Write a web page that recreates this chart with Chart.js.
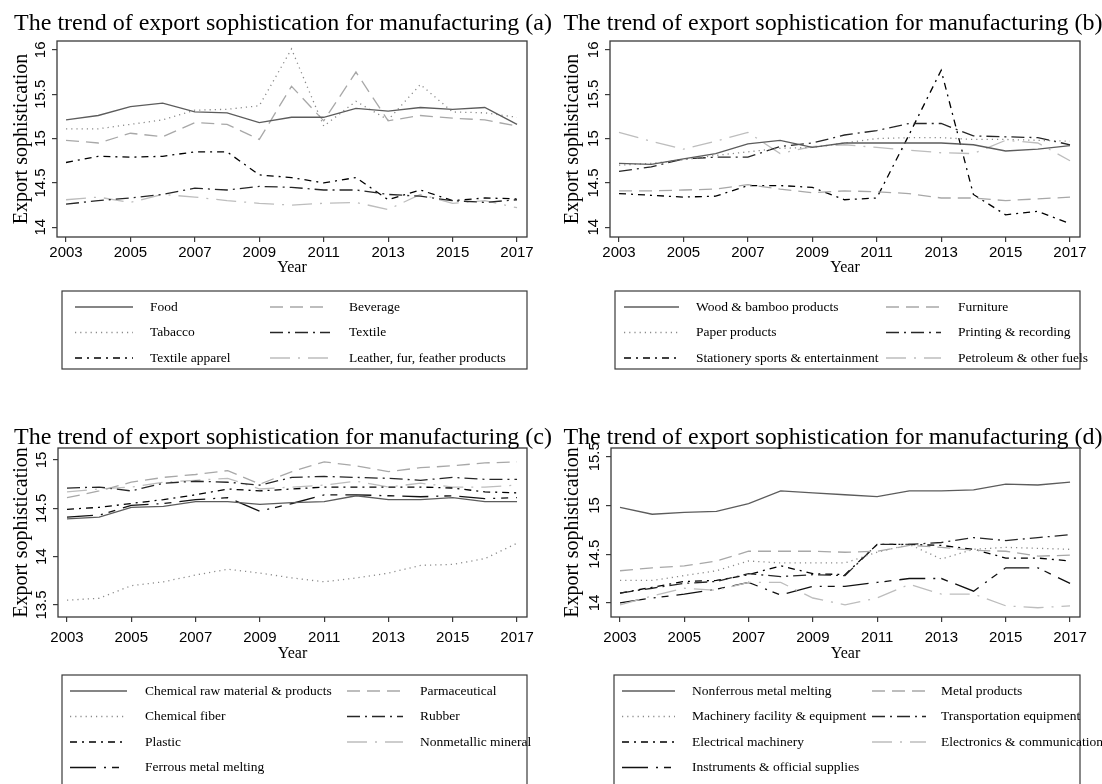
<!DOCTYPE html>
<html>
<head>
<meta charset="utf-8">
<script src="https://cdn.jsdelivr.net/npm/chart.js@4.4.0/dist/chart.umd.min.js"></script>
<style>
  html, body { margin: 0; padding: 0; background: #fff; }
  #wrap { position: relative; width: 1102px; height: 784px; overflow: hidden; }
  canvas { position: absolute; }
</style>
</head>
<body>
<div id="wrap">
  <canvas id="chartA" width="551" height="392" style="left:0;top:0"></canvas>
  <canvas id="chartB" width="551" height="392" style="left:551px;top:0"></canvas>
  <canvas id="chartC" width="551" height="392" style="left:0;top:392px"></canvas>
  <canvas id="chartD" width="551" height="392" style="left:551px;top:392px"></canvas>
</div>
<script>
// Data
const years = [2003, 2004, 2005, 2006, 2007, 2008, 2009, 2010, 2011, 2012, 2013, 2014, 2015, 2016, 2017];
const xTicks = [2003, 2005, 2007, 2009, 2011, 2013, 2015, 2017];
const yTicksTop = [14, 14.5, 15, 15.5, 16];
const yTicksC = [13.5, 14, 14.5, 15];
const yTicksD = [14, 14.5, 15, 15.5];

// (a)
const namesA = ['Food', 'Beverage', 'Tabacco', 'Textile', 'Textile apparel', 'Leather, fur, feather products'];
const food = [15.21, 15.26, 15.36, 15.40, 15.30, 15.29, 15.18, 15.24, 15.24, 15.34, 15.31, 15.35, 15.33, 15.35, 15.16];
const beverage = [14.98, 14.95, 15.06, 15.02, 15.18, 15.16, 14.99, 15.59, 15.20, 15.75, 15.20, 15.26, 15.23, 15.21, 15.14];
const tabacco = [15.11, 15.11, 15.16, 15.21, 15.32, 15.33, 15.37, 16.01, 15.14, 15.42, 15.21, 15.61, 15.30, 15.29, 15.24];
const textile = [14.26, 14.30, 14.33, 14.37, 14.44, 14.42, 14.46, 14.45, 14.42, 14.42, 14.37, 14.35, 14.30, 14.28, 14.31];
const textileApparel = [14.73, 14.80, 14.79, 14.80, 14.85, 14.85, 14.59, 14.56, 14.50, 14.56, 14.31, 14.42, 14.30, 14.33, 14.32];
const leather = [14.31, 14.34, 14.28, 14.37, 14.34, 14.30, 14.27, 14.25, 14.27, 14.28, 14.20, 14.37, 14.27, 14.30, 14.22];

// (b)
const namesB = ['Wood & bamboo products', 'Furniture', 'Paper products', 'Printing & recording', 'Stationery sports & entertainment', 'Petroleum & other fuels'];
const wood = [14.72, 14.71, 14.77, 14.83, 14.94, 14.98, 14.90, 14.95, 14.95, 14.95, 14.95, 14.93, 14.86, 14.88, 14.92];
const furniture = [14.41, 14.41, 14.42, 14.43, 14.48, 14.43, 14.39, 14.41, 14.40, 14.38, 14.33, 14.33, 14.30, 14.32, 14.34];
const paper = [14.70, 14.72, 14.76, 14.81, 14.85, 14.89, 14.90, 14.95, 15.00, 15.01, 15.01, 14.99, 14.99, 14.98, 14.97];
const printing = [14.63, 14.68, 14.77, 14.79, 14.79, 14.91, 14.95, 15.04, 15.09, 15.17, 15.17, 15.03, 15.02, 15.01, 14.93];
const stationery = [14.38, 14.36, 14.34, 14.35, 14.47, 14.47, 14.45, 14.31, 14.33, 15.04, 15.77, 14.37, 14.14, 14.18, 14.04];
const petroleum = [15.07, 14.97, 14.88, 14.97, 15.07, 14.83, 14.91, 14.93, 14.90, 14.87, 14.84, 14.83, 14.98, 14.95, 14.75];

// (c)
const namesC = ['Chemical raw material & products', 'Parmaceutical', 'Chemical fiber', 'Rubber', 'Plastic', 'Nonmetallic mineral', 'Ferrous metal melting'];
const chemRaw = [14.39, 14.41, 14.51, 14.52, 14.57, 14.57, 14.54, 14.56, 14.57, 14.63, 14.59, 14.59, 14.61, 14.57, 14.57];
const parma = [14.61, 14.68, 14.77, 14.82, 14.85, 14.89, 14.75, 14.88, 14.98, 14.94, 14.88, 14.92, 14.94, 14.97, 14.98];
const chemFiber = [13.55, 13.57, 13.70, 13.74, 13.81, 13.87, 13.83, 13.78, 13.74, 13.78, 13.83, 13.91, 13.92, 13.98, 14.14];
const rubber = [14.71, 14.72, 14.68, 14.76, 14.78, 14.77, 14.74, 14.82, 14.83, 14.82, 14.81, 14.79, 14.82, 14.80, 14.80];
const plastic = [14.49, 14.51, 14.55, 14.59, 14.64, 14.70, 14.68, 14.70, 14.72, 14.72, 14.72, 14.72, 14.71, 14.67, 14.66];
const nonmetallic = [14.67, 14.70, 14.72, 14.77, 14.79, 14.81, 14.70, 14.72, 14.74, 14.78, 14.72, 14.76, 14.72, 14.72, 14.74];
const ferrous = [14.41, 14.43, 14.53, 14.55, 14.59, 14.61, 14.47, 14.55, 14.64, 14.64, 14.63, 14.62, 14.63, 14.60, 14.61];

// (d)
const namesD = ['Nonferrous metal melting', 'Metal products', 'Machinery facility & equipment', 'Transportation equipment', 'Electrical machinery', 'Electronics & communication', 'Instruments & official supplies'];
const nonferrous = [14.98, 14.91, 14.93, 14.94, 15.02, 15.15, 15.13, 15.11, 15.09, 15.15, 15.15, 15.16, 15.22, 15.21, 15.24];
const metalProducts = [14.33, 14.36, 14.38, 14.43, 14.53, 14.53, 14.53, 14.52, 14.53, 14.59, 14.57, 14.54, 14.53, 14.48, 14.49];
const machinery = [14.23, 14.23, 14.28, 14.33, 14.43, 14.41, 14.41, 14.41, 14.52, 14.60, 14.45, 14.55, 14.57, 14.56, 14.55];
const transport = [14.10, 14.15, 14.20, 14.22, 14.30, 14.27, 14.29, 14.28, 14.60, 14.60, 14.62, 14.67, 14.64, 14.67, 14.70];
const electrical = [14.10, 14.16, 14.22, 14.23, 14.29, 14.38, 14.30, 14.29, 14.60, 14.60, 14.59, 14.55, 14.46, 14.46, 14.43];
const electronics = [13.98, 14.07, 14.15, 14.13, 14.21, 14.21, 14.05, 13.98, 14.05, 14.19, 14.09, 14.09, 13.97, 13.95, 13.97];
const instruments = [14.00, 14.05, 14.09, 14.14, 14.21, 14.08, 14.17, 14.17, 14.21, 14.25, 14.25, 14.12, 14.36, 14.36, 14.20];

// Line styles (Stata-like mono scheme)
const lineStyles = [
    { color: '#5c5c5c', dash: [] },
    { color: '#a8a8a8', dash: [13, 7] },
    { color: '#8a8a8a', dash: [1.2, 4] },
    { color: '#262626', dash: [13, 5, 2, 5] },
    { color: '#000000', dash: [7, 5, 2, 5] },
    { color: '#bdbdbd', dash: [20, 8, 2, 8] },
    { color: '#111111', dash: [26, 8, 2, 6, 7, 8] }
];

const SERIF = '"Liberation Serif", "Times New Roman", serif';
const SANS = '"Liberation Sans", Arial, sans-serif';

// Frame round the plot region
const framePlugin = {
    id: 'frame',
    afterDatasetsDraw(chart) {
        const { ctx, chartArea: a } = chart;
        ctx.save();
        ctx.strokeStyle = '#3a3a3a';
        ctx.lineWidth = 1.3;
        ctx.strokeRect(a.left, a.top, a.right - a.left, a.bottom - a.top);
        ctx.restore();
    }
};

function titlePlugin(p) {
    return {
        id: 'panelTitle',
        afterDraw(chart) {
            const ctx = chart.ctx;
            ctx.save();
            ctx.font = '24px ' + SERIF;
            ctx.fillStyle = '#000';
            ctx.textAlign = 'center';
            ctx.textBaseline = 'middle';
            ctx.fillText(p.title, p.titleX, p.titleY);
            ctx.restore();
        }
    };
}

function legendPlugin(p) {
    return {
        id: 'boxLegend',
        afterDraw(chart) {
            const ctx = chart.ctx;
            const L = p.legend;
            ctx.save();
            ctx.strokeStyle = '#3a3a3a';
            ctx.lineWidth = 1.2;
            ctx.strokeRect(L.left, L.top, L.right - L.left, L.bottom - L.top);
            ctx.font = '13.5px ' + SERIF;
            ctx.textBaseline = 'middle';
            ctx.textAlign = 'left';
            chart.data.datasets.forEach((ds, i) => {
                const row = Math.floor(i / 2);
                const col = i % 2;
                const y = L.row0 + row * L.rowStep;
                const s = col === 0 ? L.s1 : L.s2;
                const tx = col === 0 ? L.t1 : L.t2;
                ctx.strokeStyle = ds.borderColor;
                ctx.lineWidth = 1.3;
                ctx.setLineDash(ds.borderDash);
                ctx.beginPath();
                ctx.moveTo(L.left + s[0], y);
                ctx.lineTo(L.left + s[1], y);
                ctx.stroke();
                ctx.setLineDash([]);
                ctx.fillStyle = '#000';
                ctx.fillText(ds.label, L.left + tx, y);
            });
            ctx.restore();
        }
    };
}

function buildPanel(canvasId, p) {
    const datasets = p.series.map((vals, i) => ({
        label: p.names[i],
        data: vals.map((v, j) => ({ x: years[j], y: v })),
        borderColor: lineStyles[i].color,
        borderDash: lineStyles[i].dash,
        borderWidth: 1.3,
        pointRadius: 0,
        fill: false,
        tension: 0
    }));

    const tickGrid = {
        display: true,
        drawOnChartArea: false,
        drawTicks: true,
        tickLength: 5,
        color: '#3a3a3a',
        lineWidth: 1.2
    };

    return new Chart(document.getElementById(canvasId), {
        type: 'line',
        data: { datasets: datasets },
        options: {
            responsive: false,
            animation: false,
            events: [],
            layout: { padding: { left: 10, right: p.padRight, top: p.padTop, bottom: p.padBottom } },
            plugins: {
                legend: { display: false },
                tooltip: { enabled: false },
                title: { display: false }
            },
            scales: {
                x: {
                    type: 'linear',
                    min: 2002.72,
                    max: 2017.31,
                    afterBuildTicks: (s) => { s.ticks = xTicks.map(v => ({ value: v })); },
                    afterFit: (s) => { s.height = p.xAxisHeight; },
                    grid: tickGrid,
                    border: { display: false },
                    ticks: {
                        font: { family: SANS, size: 15 },
                        color: '#000',
                        padding: p.xLabelPad,
                        maxRotation: 0,
                        autoSkip: false,
                        callback: (v) => String(v)
                    },
                    title: {
                        display: true,
                        text: 'Year',
                        font: { family: SERIF, size: 16 },
                        color: '#000',
                        padding: { top: 0, bottom: 0 }
                    }
                },
                y: {
                    min: p.yMin,
                    max: p.yMax,
                    afterBuildTicks: (s) => { s.ticks = p.yTicks.map(v => ({ value: v })); },
                    afterFit: (s) => { s.width = p.yAxisWidth; },
                    grid: tickGrid,
                    border: { display: false },
                    ticks: {
                        font: { family: SANS, size: 15 },
                        color: '#000',
                        minRotation: 90,
                        maxRotation: 90,
                        crossAlign: 'center',
                        padding: -3,
                        callback: (v) => String(v)
                    },
                    title: {
                        display: true,
                        text: 'Export sophistication',
                        font: { family: SERIF, size: 20 },
                        color: '#000',
                        padding: { top: 0, bottom: 0 }
                    }
                }
            }
        },
        plugins: [framePlugin, titlePlugin(p), legendPlugin(p)]
    });
}

const upperLegend = { top: 291, bottom: 369, row0: 307, rowStep: 25.5 };
const lowerLegend = { top: 283, bottom: 420, row0: 299, rowStep: 25.5 };

buildPanel('chartA', {
    title: 'The trend of export sophistication for manufacturing (a)',
    titleX: 283, titleY: 24,
    names: namesA,
    series: [food, beverage, tabacco, textile, textileApparel, leather],
    yMin: 13.89, yMax: 16.10, yTicks: yTicksTop,
    padTop: 41, padBottom: 115, padRight: 24, yAxisWidth: 47,
    xAxisHeight: 40, xLabelPad: 2,
    legend: Object.assign({ left: 62, right: 527, s1: [13, 71], t1: 88, s2: [208, 268], t2: 287 }, upperLegend)
});

buildPanel('chartB', {
    title: 'The trend of export sophistication for manufacturing (b)',
    titleX: 282, titleY: 24,
    names: namesB,
    series: [wood, furniture, paper, printing, stationery, petroleum],
    yMin: 13.89, yMax: 16.10, yTicks: yTicksTop,
    padTop: 41, padBottom: 115, padRight: 22, yAxisWidth: 49,
    xAxisHeight: 40, xLabelPad: 2,
    legend: Object.assign({ left: 64, right: 529, s1: [9, 64], t1: 81, s2: [271, 326], t2: 343 }, upperLegend)
});

buildPanel('chartC', {
    title: 'The trend of export sophistication for manufacturing (c)',
    titleX: 283, titleY: 46,
    names: namesC,
    series: [chemRaw, parma, chemFiber, rubber, plastic, nonmetallic, ferrous],
    yMin: 13.376, yMax: 15.124, yTicks: yTicksC,
    padTop: 56, padBottom: 121, padRight: 24, yAxisWidth: 48,
    xAxisHeight: 46, xLabelPad: 7,
    legend: Object.assign({ left: 62, right: 527, s1: [8, 65], t1: 83, s2: [285, 341], t2: 358 }, lowerLegend)
});

buildPanel('chartD', {
    title: 'The trend of export sophistication for manufacturing (d)',
    titleX: 282, titleY: 46,
    names: namesD,
    series: [nonferrous, metalProducts, machinery, transport, electrical, electronics, instruments],
    yMin: 13.855, yMax: 15.59, yTicks: yTicksD,
    padTop: 56, padBottom: 121, padRight: 22, yAxisWidth: 50,
    xAxisHeight: 46, xLabelPad: 7,
    legend: Object.assign({ left: 63, right: 529, s1: [8, 61], t1: 78, s2: [258, 312], t2: 327 }, lowerLegend)
});
</script>
</body>
</html>
